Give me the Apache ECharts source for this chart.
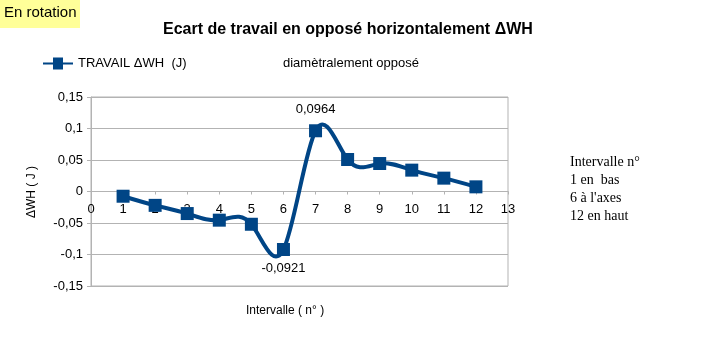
<!DOCTYPE html>
<html><head><meta charset="utf-8">
<script src="https://cdn.jsdelivr.net/npm/echarts@6/dist/echarts.min.js"></script>
<style>html,body{margin:0;padding:0;background:#fff}#c{width:718px;height:340px}</style>
</head><body><div id="c"></div>
<script>
const intervals = [1,2,3,4,5,6,7,8,9,10,11,12];
const travail = [-0.0075,-0.022,-0.035,-0.0455,-0.052,-0.0921,0.0964,0.0508,0.0444,0.0339,0.0212,0.0074];
const labelledIdx = [5,6];
const noteLines = ["Intervalle n°","1 en  bas","6 à l'axes","12 en haut"];

const fmt = (v, d) => { const p = Math.pow(10, d); const r = Math.round(v*p)/p; return String(r).replace('.', ','); };
const F = '"Liberation Sans", Arial, sans-serif';

// natural cubic spline slopes (drawing only, like the spreadsheet's "cubic spline" line)
function splineSlopes(xs, ys) {
  const n = xs.length, M = new Array(n).fill(0);
  const a = [], b = [], c = [], d = [];
  for (let i = 1; i < n - 1; i++) {
    const h0 = xs[i] - xs[i-1], h1 = xs[i+1] - xs[i];
    a.push(h0); b.push(2*(h0+h1)); c.push(h1);
    d.push(6*((ys[i+1]-ys[i])/h1 - (ys[i]-ys[i-1])/h0));
  }
  const m = b.length;
  for (let i = 1; i < m; i++) { const w = a[i]/b[i-1]; b[i] -= w*c[i-1]; d[i] -= w*d[i-1]; }
  const sol = new Array(m);
  sol[m-1] = d[m-1]/b[m-1];
  for (let i = m-2; i >= 0; i--) sol[i] = (d[i] - c[i]*sol[i+1]) / b[i];
  for (let i = 0; i < m; i++) M[i+1] = sol[i];
  const s = [];
  for (let i = 0; i < n; i++) {
    if (i < n - 1) { const h = xs[i+1]-xs[i]; s.push((ys[i+1]-ys[i])/h - h*(2*M[i]+M[i+1])/6); }
    else { const h = xs[i]-xs[i-1]; s.push((ys[i]-ys[i-1])/h + h*(M[i-1]+2*M[i])/6); }
  }
  return s;
}
const slopes = splineSlopes(intervals, travail);

const chart = echarts.init(document.getElementById('c'));
chart.setOption({
  animation:false,
  textStyle:{fontFamily:F},
  title:{text:'Ecart de travail en opposé horizontalement ΔWH', left:158, top:17,
    textStyle:{fontFamily:F, fontSize:16, fontWeight:'bold', color:'#000'}},
  legend:{left:38, top:52, itemWidth:30, itemHeight:12, icon:'path://M0,5L10,5L10,0L20,0L20,5L30,5L30,7L20,7L20,12L10,12L10,7L0,7Z',
    itemStyle:{color:'#004586'},
    textStyle:{fontFamily:F, fontSize:13, color:'#000'}, data:['TRAVAIL ΔWH  (J)']},
  graphic:[
    {type:'rect', left:0, top:0, shape:{width:80, height:28}, style:{fill:'#ffff99'}},
    {type:'text', left:4, top:5, style:{text:'En rotation', font:'15px '+F, fill:'#000'}},
    {type:'text', left:283, top:57, style:{text:'diamètralement opposé', font:'13px '+F, fill:'#000'}},
    {type:'text', left:246, top:305, style:{text:'Intervalle ( n° )', font:'12px '+F, fill:'#000'}},
    {type:'text', x:32, y:192, rotation:Math.PI/2, style:{text:'ΔWH ( J )', font:'12px '+F, fill:'#000', align:'center', verticalAlign:'middle'}},
    {type:'text', left:570, top:153, style:{text:noteLines.join('\n'), font:'14px "Liberation Serif", "Times New Roman", serif', lineHeight:18, fill:'#000'}}
  ],
  grid:{left:91, right:210, top:97, bottom:54, show:true, borderColor:'#b3b3b3', borderWidth:1, outerBoundsMode:'none', containLabel:false},
  xAxis:{type:'value', min:0, max:13, interval:1, offset:-94.5,
    axisLine:{onZero:false, lineStyle:{color:'#b3b3b3'}}, axisTick:{show:true, length:3, lineStyle:{color:'#b3b3b3'}},
    axisLabel:{color:'#000', fontSize:13, margin:11}, splitLine:{show:false}},
  yAxis:{type:'value', min:-0.15, max:0.15, interval:0.05,
    axisLine:{show:true, onZero:false, lineStyle:{color:'#b3b3b3'}}, axisTick:{show:true, length:4, lineStyle:{color:'#b3b3b3'}},
    axisLabel:{color:'#000', fontSize:13, margin:8, formatter:v=>fmt(v,3)},
    splitLine:{lineStyle:{color:'#b3b3b3'}}},
  series:[
    {type:'custom', name:'spline', silent:true, z:2, data:[[intervals[0], travail[0]]],
      renderItem:(params, api) => {
        let path = '';
        for (let i = 0; i < intervals.length; i++) {
          const p = api.coord([intervals[i], travail[i]]);
          if (i === 0) { path += 'M' + p[0] + ',' + p[1]; continue; }
          const h = intervals[i] - intervals[i-1];
          const c1 = api.coord([intervals[i-1] + h/3, travail[i-1] + slopes[i-1]*h/3]);
          const c2 = api.coord([intervals[i] - h/3, travail[i] - slopes[i]*h/3]);
          path += 'C' + c1[0] + ',' + c1[1] + ' ' + c2[0] + ',' + c2[1] + ' ' + p[0] + ',' + p[1];
        }
        return {type:'path', shape:{pathData:path}, style:{fill:null, stroke:'#004586', lineWidth:4, lineJoin:'round'}};
      }},
    {name:'TRAVAIL ΔWH  (J)', type:'line', symbol:'rect', symbolSize:13, z:3,
    lineStyle:{color:'#004586', width:0}, itemStyle:{color:'#004586'},
    data: intervals.map((x,i)=>{
      const d = {value:[x, travail[i]]};
      if (labelledIdx.includes(i)) d.label = {show:true, position: travail[i] < 0 ? 'bottom':'top', distance: travail[i] < 0 ? 6 : 8,
        color:'#000', fontSize:13, fontFamily:F, formatter:()=>fmt(travail[i],4)};
      return d;
    })
  }]
});
</script></body></html>
